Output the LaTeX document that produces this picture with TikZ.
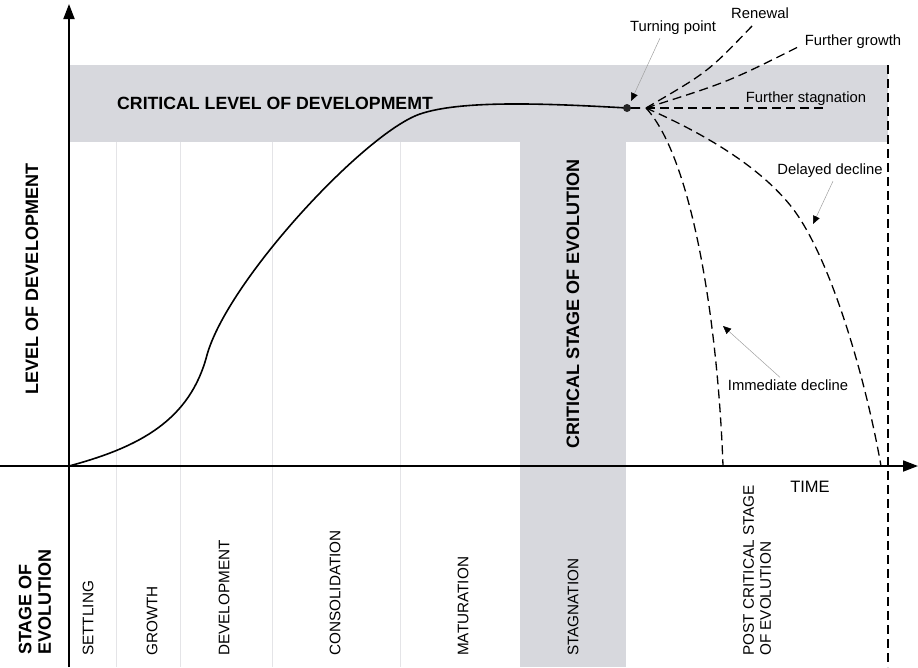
\documentclass[tikz,border=0pt]{standalone}
\usepackage{fontspec}
\setmainfont{Liberation Sans}
\usetikzlibrary{arrows.meta}
\definecolor{bandgray}{RGB}{215,216,221}
\definecolor{sepgray}{RGB}{228,228,231}
\definecolor{pointergray}{RGB}{160,160,160}
\begin{document}
\begin{tikzpicture}[x=1pt,y=-1pt,
  axisline/.style={line width=1.8pt, -{Triangle[length=15pt,width=11pt]}},
  sepline/.style={sepgray, line width=1pt},
  curveline/.style={line width=1.6pt},
  branch/.style={line width=1.3pt, dash pattern=on 9pt off 5pt},
  pointer/.style={pointergray, line width=0.5pt, -{Triangle[length=8pt,width=7pt,black]}},
  bigbold/.style={font=\fontsize{17.7}{20}\selectfont\bfseries, inner sep=0pt},
  stagelbl/.style={font=\fontsize{15.3}{17}\selectfont, inner sep=0pt, rotate=90, anchor=west, align=left},
  annot/.style={font=\fontsize{14.8}{17}\selectfont, inner sep=0pt},
  ]
\useasboundingbox (0,0) rectangle (918,667);

% bands
\fill[bandgray] (69,65) rectangle (888,142);
\fill[bandgray] (520,142) rectangle (626,667);

% separators
\foreach \xx in {116,180,272,400} {\draw[sepline] (\xx,142) -- (\xx,667);}

% coordinates
\coordinate (O) at (69,466);
\coordinate (ytop) at (69,4);
\coordinate (ybot) at (69,667);
\coordinate (xstart) at (0,466);
\coordinate (xend) at (918,466);
\coordinate (knee) at (207,355);
\coordinate (shoulder) at (420,114);
\coordinate (tpc) at (627,108);
\coordinate (tpend) at (640,108);
\coordinate (br) at (646,108);
\coordinate (vtop) at (888,65);
\coordinate (vbot) at (888,667);
\coordinate (renewalEnd) at (753,25);
\coordinate (growthEnd) at (798,47);
\coordinate (stagEnd) at (827,108);
\coordinate (delayMid) at (790,205);
\coordinate (delayEnd) at (881,466);
\coordinate (immEnd) at (723,466);

% dashed vertical line
\draw[branch] (vtop) -- (vbot);

% axes
\draw[axisline] (ybot) -- (ytop);
\draw[axisline] (xstart) -- (xend);

% main curve
\draw[curveline] (O) .. controls (140,447) and (190,420) .. (knee)
  .. controls (228,280) and (365,133) .. (shoulder)
  .. controls (460,100.4) and (540,103) .. (tpc) -- (tpend);
\node[circle, fill=black!85, inner sep=0pt, minimum size=8pt] (tp) at (tpc) {};

% branches
\draw[branch] (br) .. controls (708,72) .. (renewalEnd);
\draw[branch] (br) .. controls (728,82) .. (growthEnd);
\draw[branch] (br) -- (stagEnd);
\draw[branch] (br) .. controls (696,130) and (755,162) .. (delayMid)
  .. controls (830,254) and (866,380) .. (delayEnd);
\draw[branch] (br) .. controls (693,159) and (718,326) .. (immEnd);

% annotations
\node[annot] (renewal) at (760,13) {Renewal};
\node[annot] (turning) at (673,28) {Turning point};
\node[annot] (fgrowth) at (853,42) {Further growth};
\node[annot] (fstag) at (806,99) {Further stagnation};
\node[annot] (delayed) at (830,171) {Delayed decline};
\node[annot] (immediate) at (788,385) {Immediate decline};
\node[font=\fontsize{16.5}{18}\selectfont, inner sep=0pt] (time) at (810,487) {TIME};

\draw[pointer] ([xshift=-13pt,yshift=-3pt]turning.south) -- (631,101);
\draw[pointer] ([xshift=3pt,yshift=-3pt]delayed.south) -- (813,224);
\draw[pointer] ([xshift=-8pt,yshift=2pt]immediate.north) -- (723,326);

% big labels
\node[bigbold, anchor=west] (critlevel) at (117,103) {CRITICAL LEVEL OF DEVELOPMEMT};
\node[bigbold, rotate=90, font=\fontsize{18}{20}\selectfont\bfseries] (levdev) at (32,279) {LEVEL OF DEVELOPMENT};
\node[bigbold, rotate=90, font=\fontsize{18}{20}\selectfont\bfseries] (critstage) at (573,304) {CRITICAL STAGE OF EVOLUTION};
\node[bigbold, rotate=90, anchor=west, align=left, font=\fontsize{18}{19.5}\selectfont\bfseries] (stageof) at (35,655) {STAGE OF\\EVOLUTION};

% stage labels
\node[stagelbl] (settling) at (88,656) {SETTLING};
\node[stagelbl] (growth) at (152,656) {GROWTH};
\node[stagelbl] (develop) at (224,656) {DEVELOPMENT};
\node[stagelbl] (consol) at (335,656) {CONSOLIDATION};
\node[stagelbl] (matur) at (463,656) {MATURATION};
\node[stagelbl] (stagn) at (573,656) {STAGNATION};
\node[stagelbl] (post) at (757,656) {POST CRITICAL STAGE\\OF EVOLUTION};
\end{tikzpicture}
\end{document}
